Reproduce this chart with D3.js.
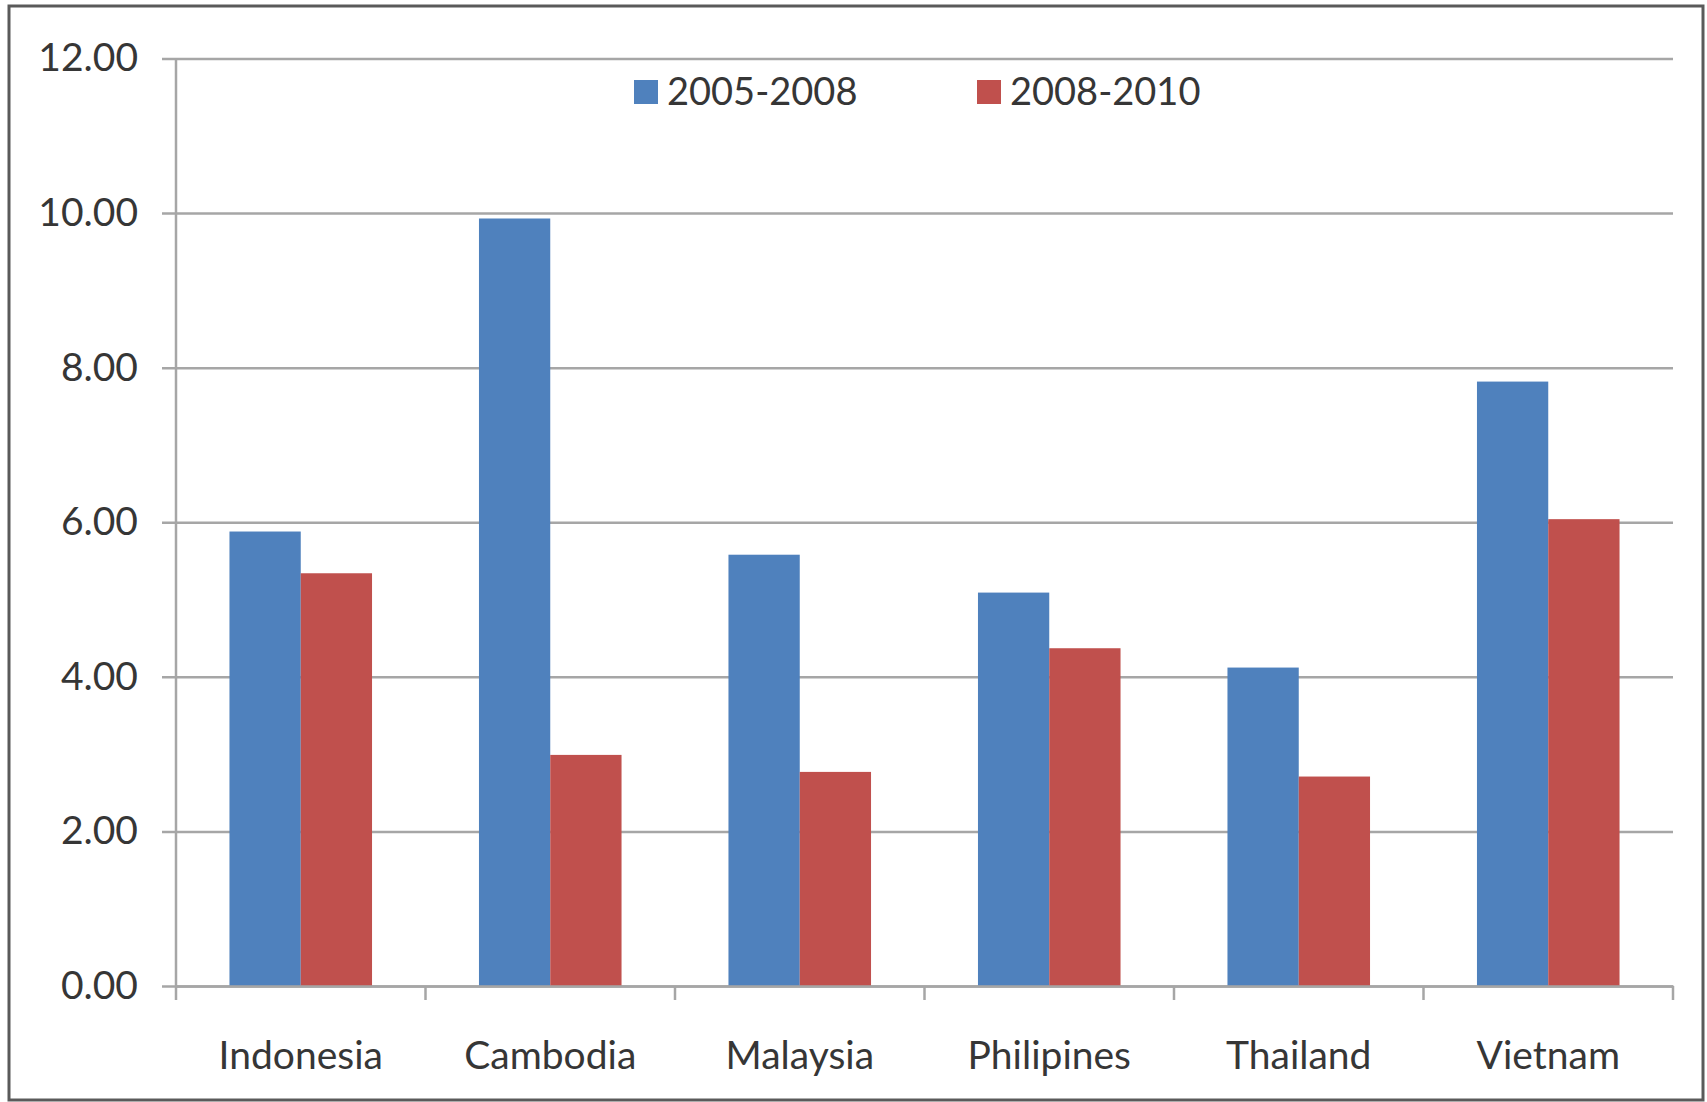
<!DOCTYPE html>
<html>
<head>
<meta charset="utf-8">
<style>
	body { margin: 0; background: #fff; }
	#vis-bars text { font-family: Lato, "Open Sans", sans-serif; fill: #363636; }
</style>
</head>
<body>

<!-- HTML -->
<div class='vis' id='vis-bars'></div>

<!-- Imports -->
<script src="https://d3js.org/d3.v7.min.js"></script>

<!-- Code -->
<script>

	// Data //
	// ---- //

	const countries = ["Indonesia", "Cambodia", "Malaysia", "Philipines", "Thailand", "Vietnam"];
	const periods = ["2005-2008", "2008-2010"];
	const values0508 = [5.88, 9.93, 5.58, 5.09, 4.12, 7.82];
	const values0810 = [5.34, 2.99, 2.77, 4.37, 2.71, 6.04];
	const yTicks = [0, 2, 4, 6, 8, 10, 12];
	const colors = ["#4F81BD", "#C0504D"];

	function barvis() {

		// Setup //
		// ----- //

		let W = 1707, H = 1102;
		let margin_ = {top: 58.5, right: 34, bottom: 116, left: 176};

		let svg = d3.select("#vis-bars")
			.append("svg")
				.attr("width", W)
				.attr("height", H);

		// frame round the chart
		svg.append("rect")
			.attr("x", 9).attr("y", 6)
			.attr("width", 1694).attr("height", 1094)
			.attr("fill", "none")
			.attr("stroke", "#5a5a5a")
			.attr("stroke-width", 3);

		let x = d3.scaleBand().domain(countries)
			.range([margin_.left, W - margin_.right]);
		let xs = d3.scaleBand().domain(periods)
			.range([0, x.bandwidth()])
			.paddingInner(0).paddingOuter(0.75);
		let y = d3.scaleLinear().domain([0, 12])
			.range([H - margin_.bottom, margin_.top]);

		// gridlines + y labels
		let yAxis = d3.axisLeft(y)
			.tickValues(yTicks)
			.tickSize(-(W - margin_.right - margin_.left + 14))
			.tickPadding(24)
			.tickFormat(d3.format(".2f"));

		let gy = svg.append("g")
			.attr("transform", "translate(" + (margin_.left - 14) + ",0)")
			.call(yAxis);
		gy.select(".domain").remove();
		gy.selectAll(".tick line")
			.attr("stroke", "#a6a6a6")
			.attr("stroke-width", 2.5);
		gy.selectAll(".tick text")
			.style("font-size", "39px");

		// y axis line
		svg.append("line")
			.attr("x1", margin_.left).attr("x2", margin_.left)
			.attr("y1", y(12)).attr("y2", y(0))
			.attr("stroke", "#a6a6a6")
			.attr("stroke-width", 2.5);

		// bars
		let table = countries.map((c, i) => ({country: c, vals: [values0508[i], values0810[i]]}));

		svg.append("g").selectAll("g")
			.data(table)
			.enter().append("g")
				.attr("transform", d => "translate(" + x(d.country) + ",0)")
			.selectAll("rect")
			.data(d => d.vals.map((v, j) => ({period: periods[j], v: v, j: j})))
			.enter().append("rect")
				.attr("x", d => xs(d.period))
				.attr("width", xs.bandwidth())
				.attr("y", d => y(d.v))
				.attr("height", d => y(0) - y(d.v))
				.attr("fill", d => colors[d.j]);

		// category axis
		let xAxis = d3.axisBottom(x).tickSize(0).tickPadding(55);
		let gx = svg.append("g")
			.attr("transform", "translate(0," + y(0) + ")")
			.call(xAxis);
		gx.select(".domain")
			.attr("stroke", "#a6a6a6")
			.attr("stroke-width", 2.5);
		gx.selectAll(".tick text")
			.style("font-size", "39px");

		// category separators
		let seps = countries.map(c => x(c)).concat([x.range()[1]]);
		svg.append("g").selectAll("line")
			.data(seps)
			.enter().append("line")
				.attr("x1", d => d).attr("x2", d => d)
				.attr("y1", y(0)).attr("y2", y(0) + 14)
				.attr("stroke", "#a6a6a6")
				.attr("stroke-width", 2.5);

		// legend
		let legendX = [634, 977];
		let lg = svg.append("g").selectAll("g")
			.data(periods)
			.enter().append("g")
				.attr("transform", (d, i) => "translate(" + legendX[i] + ",80)");
		lg.append("rect")
			.attr("width", 24).attr("height", 24)
			.attr("fill", (d, i) => colors[i]);
		lg.append("text")
			.attr("x", 33).attr("y", 12)
			.attr("dy", "0.35em")
			.style("font-size", "38px")
			.text(d => d);
	}

	let instance_bars = barvis()
</script>
</body>
</html>
